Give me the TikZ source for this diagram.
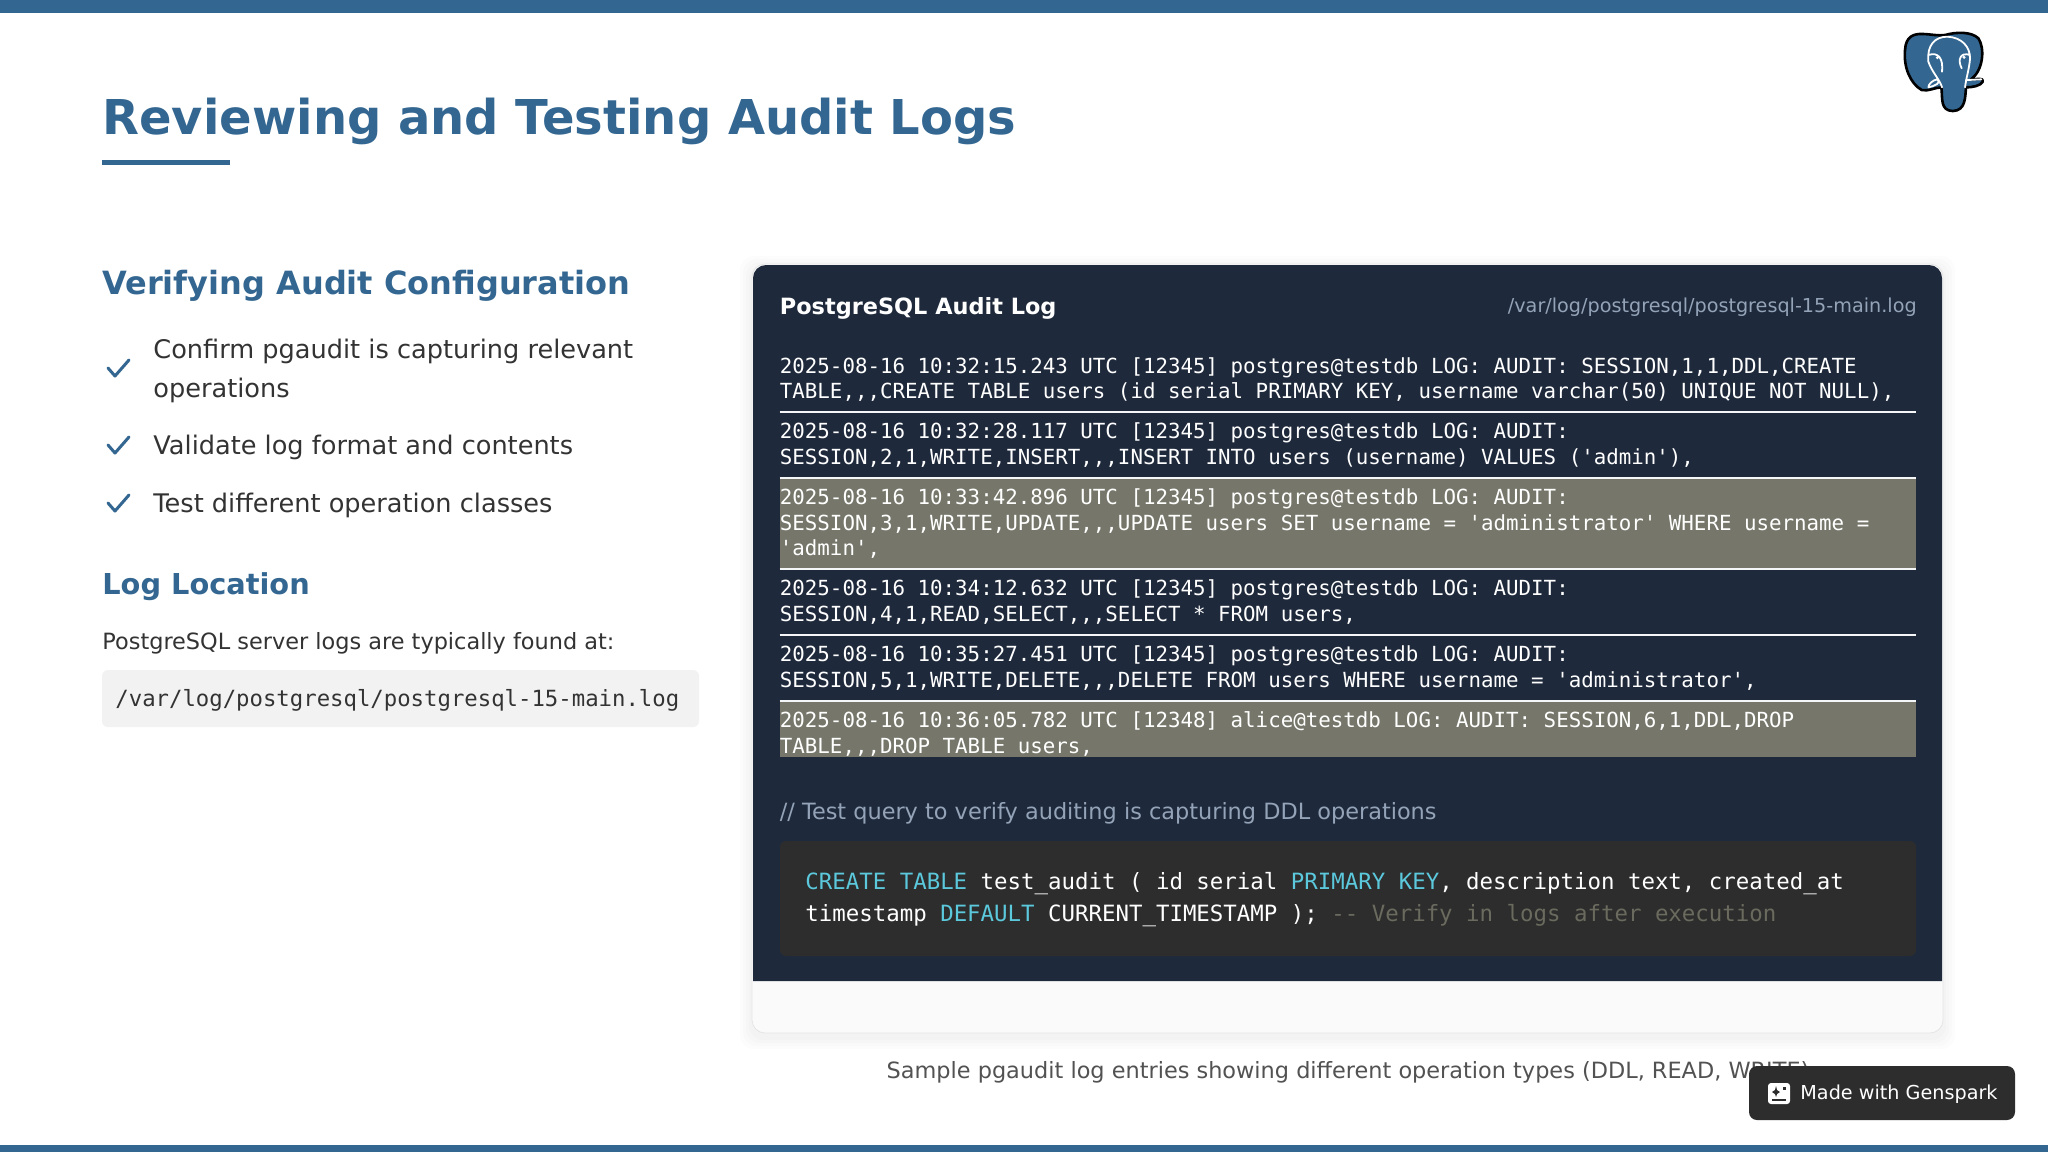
\documentclass[tikz,border=0pt]{standalone}
\usepackage{fontspec}
\setmainfont{DejaVu Sans}
\setmonofont{DejaVu Sans Mono}
\usetikzlibrary{positioning}
\definecolor{pgblue}{HTML}{336791}
\definecolor{carddark}{HTML}{1E293B}
\definecolor{codedark}{HTML}{2D2D2D}
\definecolor{hilite}{HTML}{76776A}
\definecolor{keyword}{HTML}{5BC8DC}
\definecolor{remark}{HTML}{6A6A5E}
\definecolor{bodyink}{HTML}{333333}
\definecolor{softgray}{HTML}{94A3B8}

\begin{document}
\begin{tikzpicture}[x=.5pt,y=-.5pt,
  title node/.style={anchor=base west,inner sep=0,text=pgblue,font=\bfseries\fontsize{24}{29}\selectfont},
  head node/.style={anchor=base west,inner sep=0,text=pgblue,font=\bfseries\fontsize{16}{20}\selectfont},
  item node/.style={anchor=base west,inner sep=0,text=bodyink,font=\fontsize{12.8}{19}\selectfont},
  log entry/.style={anchor=north west,inner xsep=0,inner ysep=5pt,text width=568pt,align=flush left,
    text=white,font=\ttfamily\fontsize{10.4}{12.8}\selectfont},
  log mark/.style={log entry,fill=hilite},
  code line/.style={anchor=base west,inner sep=0,text=white,font=\ttfamily\fontsize{11.2}{14}\selectfont},
  log rule/.style={draw=white!90!softgray,line width=1pt},
  tick line/.style={draw=pgblue,line width=1.5pt,line cap=round,line join=round}]
  \useasboundingbox (0,0) rectangle (2048,1152);

  % page bands
  \fill[white] (0,0) rectangle (2048,1152);
  \fill[pgblue] (0,0) rectangle (2048,13);
  \fill[pgblue] (0,1145) rectangle (2048,1152);

  % elephant logo
  \begin{scope}[shift={(1860,0)},x=.1667pt,y=-.1667pt]
    \path[fill=pgblue,draw=black,line width=1.3pt,line join=round]
      (255,105) .. controls (290,95) and (335,95) .. (355,115)
      .. controls (375,145) and (370,210) .. (333,238)
      .. controls (350,238) and (372,232) .. (368,245)
      .. controls (362,258) and (335,262) .. (318,262)
      .. controls (315,290) and (318,332) .. (278,333)
      .. controls (240,332) and (248,295) .. (244,262)
      .. controls (225,262) and (205,275) .. (185,270)
      .. controls (150,250) and (130,200) .. (135,150)
      .. controls (137,110) and (160,100) .. (190,102)
      .. controls (215,103) and (235,108) .. (255,105) -- cycle;
    \draw[white,line width=.9pt,line cap=round,line join=round]
      (246,262) .. controls (240,240) and (215,215) .. (205,185)
      .. controls (200,135) and (225,110) .. (262,110)
      .. controls (305,112) and (330,140) .. (330,175)
      .. controls (328,205) and (318,235) .. (315,262)
      (205,262) .. controls (225,258) and (245,248) .. (232,238)
      .. controls (218,240) and (205,252) .. (205,262)
      (318,240) .. controls (335,240) and (350,238) .. (364,238)
      (205,165) .. controls (235,155) and (250,175) .. (246,215)
      (330,165) .. controls (300,155) and (292,180) .. (305,205);
    \fill[white] (232,173) circle (5);
    \fill[white] (312,172) circle (5);
  \end{scope}

  % left column
  \node[title node] (title) at (102,134) {Reviewing and Testing Audit Logs};
  \fill[pgblue] (102,160) rectangle (230,165);

  \node[head node] (verify) at (102,294) {Verifying Audit Configuration};
  \foreach \y in {368,445,503}
    \draw[tick line] (108,\y) -- ++(7,8) -- ++(14,-16);
  \node[item node] (item a) at (153,358) {Confirm pgaudit is capturing relevant};
  \node[item node] (item b) at (153,397) {operations};
  \node[item node] (item c) at (153,454) {Validate log format and contents};
  \node[item node] (item d) at (153,512) {Test different operation classes};

  \node[head node,font=\bfseries\fontsize{14.4}{19}\selectfont] (where) at (102,594) {Log Location};
  \node[item node,font=\fontsize{11.2}{14}\selectfont] (found) at (102,649) {PostgreSQL server logs are typically found at:};
  \fill[gray!10,rounded corners=3pt] (102,670) rectangle (699,727);
  \node[code line,text=bodyink,font=\ttfamily\fontsize{11.15}{14}\selectfont] (path) at (115,706) {/var/log/postgresql/postgresql-15-main.log};

  % log card with soft shadow
  \foreach \g in {12,9,6,3}
    \fill[black,opacity=.012,rounded corners=7pt] (752-\g,264-\g+4) rectangle (1943+\g,1033+\g+4);
  \draw[gray!20,fill=gray!4,rounded corners=6.5pt] (752,264) rectangle (1943,1033);
  \fill[carddark] (753,981) [rounded corners=6.5pt] -- (753,265) -- (1942,265) [sharp corners] -- (1942,981) -- cycle;

  \node[anchor=base west,inner sep=0,text=white,font=\bfseries\fontsize{11.2}{14}\selectfont] (logname) at (779.5,314) {PostgreSQL Audit Log};
  \node[anchor=base east,inner sep=0,text=softgray,font=\fontsize{9.6}{12}\selectfont] (logfile) at (1917,312) {/var/log/postgresql/postgresql-15-main.log};

  \node[log entry] (e1) at (779.5,347) {2025-08-16 10:32:15.243 UTC [12345] postgres@testdb LOG: AUDIT: SESSION,1,1,DDL,CREATE\\TABLE,,,CREATE TABLE users (id serial PRIMARY KEY, username varchar(50) UNIQUE NOT NULL),};
  \node[log entry,below=.3pt of e1.south west,anchor=north west] (e2) {2025-08-16 10:32:28.117 UTC [12345] postgres@testdb LOG: AUDIT:\\SESSION,2,1,WRITE,INSERT,,,INSERT INTO users (username) VALUES ('admin'),};
  \node[log mark,below=.3pt of e2.south west,anchor=north west] (e3) {2025-08-16 10:33:42.896 UTC [12345] postgres@testdb LOG: AUDIT:\\SESSION,3,1,WRITE,UPDATE,,,UPDATE users SET username = 'administrator' WHERE username =\\'admin',};
  \node[log entry,below=.3pt of e3.south west,anchor=north west] (e4) {2025-08-16 10:34:12.632 UTC [12345] postgres@testdb LOG: AUDIT:\\SESSION,4,1,READ,SELECT,,,SELECT * FROM users,};
  \node[log entry,below=.3pt of e4.south west,anchor=north west] (e5) {2025-08-16 10:35:27.451 UTC [12345] postgres@testdb LOG: AUDIT:\\SESSION,5,1,WRITE,DELETE,,,DELETE FROM users WHERE username = 'administrator',};
  \node[log mark,below=.3pt of e5.south west,anchor=north west] (e6) {2025-08-16 10:36:05.782 UTC [12348] alice@testdb LOG: AUDIT: SESSION,6,1,DDL,DROP\\TABLE,,,DROP TABLE users,\vspace{-4.5pt}};
  \foreach \e in {e1,e2,e3,e4,e5}
    \draw[log rule] (\e.south west) -- (\e.south east);

  \node[anchor=base west,inner sep=0,text=softgray,font=\fontsize{11.2}{14}\selectfont] (testnote) at (779.5,819) {// Test query to verify auditing is capturing DDL operations};
  \fill[codedark,rounded corners=3pt] (780,841) rectangle (1916,956);
  \node[code line] (sql a) at (805,889) {\textcolor{keyword}{CREATE TABLE} test\_audit ( id serial \textcolor{keyword}{PRIMARY KEY}, description text, created\_at};
  \node[code line] (sql b) at (805,921) {timestamp \textcolor{keyword}{DEFAULT} CURRENT\_TIMESTAMP ); \textcolor{remark}{-- Verify in logs after execution}};

  \node[anchor=base,inner sep=0,text=bodyink!85,font=\fontsize{11.2}{14}\selectfont] (caption) at (1348,1078) {Sample pgaudit log entries showing different operation types (DDL, READ, WRITE)};

  % badge
  \fill[codedark,rounded corners=4pt] (1749,1066) rectangle (2015,1120);
  \fill[white,rounded corners=1.5pt] (1768,1083) rectangle (1790,1104);
  \fill[codedark] (1772,1092) -- (1775,1090) -- (1776,1086) -- (1777,1090) -- (1780,1092) -- (1777,1094) -- (1776,1097) -- (1775,1094) -- cycle;
  \fill[codedark] (1783,1087) rectangle (1786,1090);
  \fill[codedark] (1772,1099) rectangle (1786,1101);
  \node[anchor=base west,inner sep=0,text=white,font=\fontsize{9.6}{12}\selectfont] (badge) at (1800,1099) {Made with Genspark};
\end{tikzpicture}
\end{document}
